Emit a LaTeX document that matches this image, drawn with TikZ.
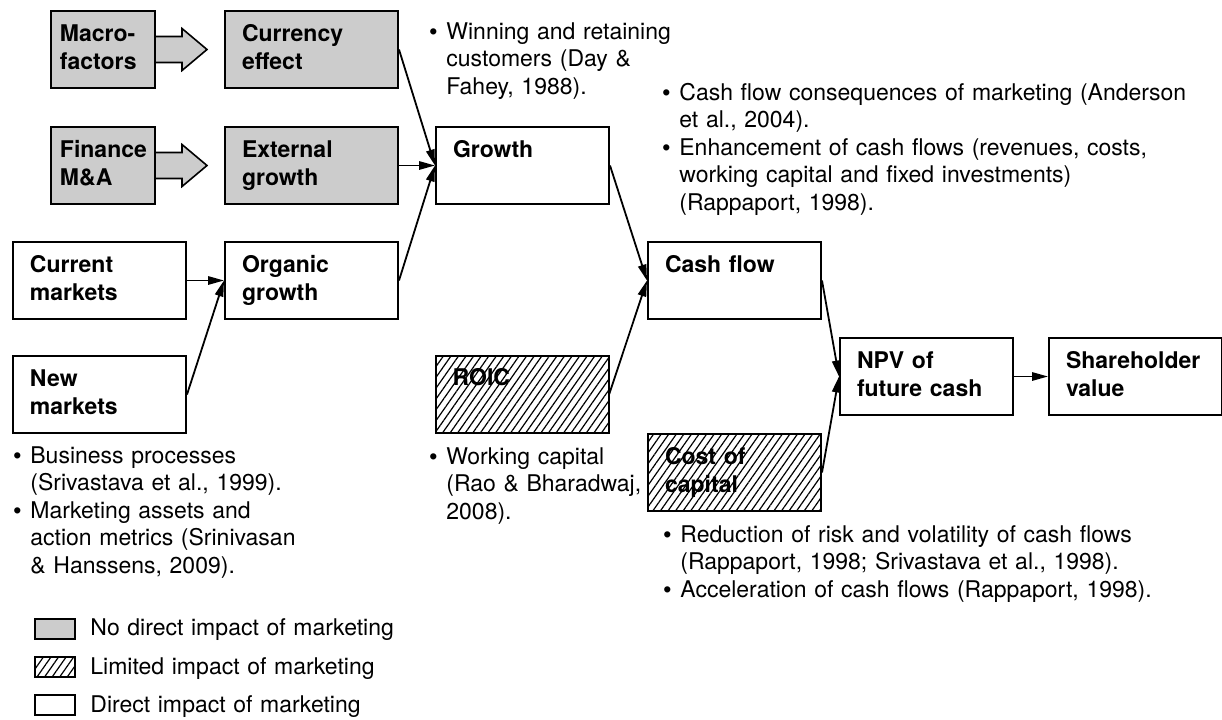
\documentclass[tikz,border=0pt]{standalone}
\usepackage{fontspec}
\setmainfont{TeX Gyre Heros}
\newfontfamily\bulletfont{Liberation Sans}
\usetikzlibrary{calc,arrows.meta,patterns.meta}

\definecolor{boxgray}{RGB}{204,204,204}
\newcommand\labelfont{\fontsize{11.5pt}{14pt}\selectfont\bfseries}
\newcommand\notefont{\fontsize{11.5pt}{13.75pt}\selectfont}
\newcommand\bitem{\makebox[8.5pt][l]{\bulletfont\textbullet}}
\newcommand\bcont{\hspace*{8.5pt}}

\tikzset{
    box/.style={draw, line width=1pt, anchor=north west, minimum height=38.5pt,
        inner xsep=8.5pt, inner ysep=0pt, text width=69.5pt, align=left, font=\labelfont,
        execute at begin node=\strut, execute at end node=\strut},
    narrowbox/.style={box, inner xsep=4.5pt, text width=43pt},
    nodirect/.style={fill=boxgray},
    limited/.style={pattern={Lines[angle=55,distance=3.1pt,line width=0.6pt]}},
    link/.style={line width=0.9pt, -{Triangle[length=8pt,width=4.2pt]}},
    blockarrow/.style={draw, line width=0.8pt, fill=boxgray, line join=miter},
    note/.style={anchor=base west, inner sep=0pt, text width=280pt, align=left, font=\notefont},
    legbox/.style={draw, line width=1pt, anchor=north west, minimum width=20pt, minimum height=10pt, inner sep=0pt}
}

\begin{document}
\begin{tikzpicture}[x=0.5pt, y=-0.5pt]
        \useasboundingbox (0,0) rectangle (1222,719);

        % Outside marketing.
        \node[narrowbox, nodirect] (macro) at (50,10) {Macro-\\factors};
        \node[box, nodirect] (currency) at (224,10) {Currency\\effect};
        \node[narrowbox, nodirect] (finance) at (50,126) {Finance\\M\&A};
        \node[box, nodirect] (external) at (224,126) {External\\growth};

        % Markets.
        \node[box] (current) at (12,241) {Current\\markets};
        \node[box] (organic) at (224,241) {Organic\\growth};
        \node[box] (newmarkets) at (12,355) {New\\markets};

        % Value chain.
        \node[box] (growth) at (435,126) {Growth\\\phantom{g}};
        \node[box] (cashflow) at (647,241) {Cash flow\\\phantom{g}};
        \node[box, limited] (roic) at (435,355) {ROIC\\\phantom{g}};
        \node[box, limited] (costcap) at (647,433) {Cost of\\capital};
        \node[box] (npv) at (839,337) {NPV of\\future cash};
        \node[box] (share) at (1048,337) {Shareholder\\value};

        % Block arrows.
        \draw[blockarrow] ($(macro.east)+(0,-13)$) -- ++(26,0) -- ++(0,-8) -- ++(25,21) -- ++(-25,21) -- ++(0,-8) -- ++(-26,0);
        \draw[blockarrow] ($(finance.east)+(0,-13)$) -- ++(26,0) -- ++(0,-8) -- ++(25,21) -- ++(-25,21) -- ++(0,-8) -- ++(-26,0);

        % Links.
        \draw[link] (currency.east) -- (growth.west);
        \draw[link] (external.east) -- (growth.west);
        \draw[link] (organic.east) -- (growth.west);
        \draw[link] (current.east) -- (organic.west);
        \draw[link] (newmarkets.east) -- (organic.west);
        \draw[link] (growth.east) -- (cashflow.west);
        \draw[link] (roic.east) -- (cashflow.west);
        \draw[link] (cashflow.east) -- (npv.west);
        \draw[link] (costcap.east) -- (npv.west);
        \draw[link] (npv.east) -- (share.west);

        % Notes.
        \node[note] (winning) at (429,39) {\bitem Winning and retaining\\\bcont customers (Day \&\\\bcont Fahey, 1988).};
        \node[note] (cashnotes) at (662,100) {\bitem Cash flow consequences of marketing (Anderson\\\bcont et al., 2004).\\\bitem Enhancement of cash flows (revenues, costs,\\\bcont working capital and fixed investments)\\\bcont (Rappaport, 1998).};
        \node[note] (busnotes) at (13,463) {\bitem Business processes\\\bcont (Srivastava et al., 1999).\\\bitem Marketing assets and\\\bcont action metrics (Srinivasan\\\bcont \& Hanssens, 2009).};
        \node[note] (wcnotes) at (429,464) {\bitem Working capital\\\bcont (Rao \& Bharadwaj,\\\bcont 2008).};
        \node[note] (risknotes) at (663,542) {\bitem Reduction of risk and volatility of cash flows\\\bcont (Rappaport, 1998; Srivastava et al., 1998).\\\bitem Acceleration of cash flows (Rappaport, 1998).};

        % Legend.
        \node[legbox, nodirect] (legno) at (34,618) {};
        \node[legbox, limited] (leglim) at (34,656) {};
        \node[legbox] (legdir) at (34,694) {};
        \node[note] (legnotext) at (90,635) {No direct impact of marketing};
        \node[note] (leglimtext) at (90,674) {Limited impact of marketing};
        \node[note] (legdirtext) at (90,712) {Direct impact of marketing};
    \end{tikzpicture}
\end{document}
